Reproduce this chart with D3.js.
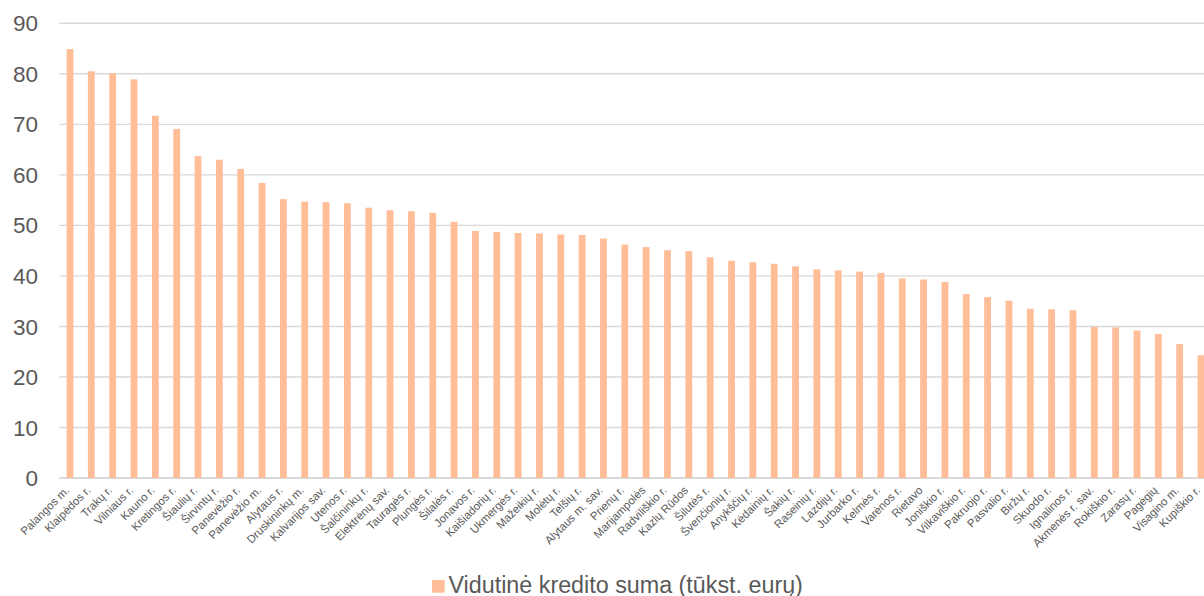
<!DOCTYPE html>
<html>
<head>
<meta charset="utf-8">
<script src="https://cdn.jsdelivr.net/npm/d3@7"></script>
<style>
  html, body { margin: 0; padding: 0; background: #ffffff; }
  svg { display: block; font-family: "Liberation Sans", Arial, sans-serif; }
</style>
</head>
<body>
<svg id="chart" width="1204" height="596"></svg>
<script>
// Average loan amount by municipality (thousand euros)
const categories = [
  "Palangos m.", "Klaipėdos r.", "Trakų r.", "Vilniaus r.", "Kauno r.", "Kretingos r.",
  "Šiaulių r.", "Širvintų r.", "Panevėžio r.", "Panevėžio m.", "Alytaus r.", "Druskininkų m.",
  "Kalvarijos sav.", "Utenos r.", "Šalčininkų r.", "Elektrėnų sav.", "Tauragės r.", "Plungės r.",
  "Šilalės r.", "Jonavos r.", "Kaišiadorių r.", "Ukmergės r.", "Mažeikių r.", "Molėtų r.",
  "Telšių r.", "Alytaus m. sav.", "Prienų r.", "Marijampolės", "Radviliškio r.", "Kazlų Rūdos",
  "Šilutės r.", "Švenčionių r.", "Anykščių r.", "Kėdainių r.", "Šakių r.", "Raseinių r.",
  "Lazdijų r.", "Jurbarko r.", "Kelmės r.", "Varėnos r.", "Rietavo", "Joniškio r.",
  "Vilkaviškio r.", "Pakruojo r.", "Pasvalio r.", "Biržų r.", "Skuodo r.", "Ignalinos r.",
  "Akmenės r. sav.", "Rokiškio r.", "Zarasų r.", "Pagėgių", "Visagino m.", "Kupiškio r."
];

const values = [
  84.9, 80.5, 80.1, 78.9, 71.7, 69.1,
  63.7, 63.0, 61.2, 58.4, 55.2, 54.7,
  54.6, 54.4, 53.5, 53.0, 52.8, 52.5,
  50.7, 48.9, 48.7, 48.5, 48.4, 48.2,
  48.1, 47.4, 46.2, 45.7, 45.1, 44.9,
  43.7, 43.0, 42.7, 42.4, 41.9, 41.3,
  41.1, 40.85, 40.6, 39.5, 39.3, 38.8,
  36.4, 35.8, 35.1, 33.5, 33.4, 33.2,
  29.9, 29.8, 29.2, 28.5, 26.5, 24.3
];

const yTicks = [0, 10, 20, 30, 40, 50, 60, 70, 80, 90];
const seriesName = "Vidutinė kredito suma (tūkst. eurų)";

const data = categories.map((c, i) => ({ name: c, value: values[i] }));

const svg = d3.select("#chart");

const x = d3.scaleBand()
  .domain(categories)
  .range([59.3, 1211.7])
  .paddingInner(0.68)
  .paddingOuter(0.34);

const y = d3.scaleLinear()
  .domain([0, 90])
  .range([478, 23.3]);

// horizontal gridlines
svg.append("g")
  .selectAll("line")
  .data(yTicks)
  .join("line")
  .attr("x1", 59.3)
  .attr("x2", 1204)
  .attr("y1", d => y(d))
  .attr("y2", d => y(d))
  .attr("stroke", "#d9d9d9")
  .attr("stroke-width", d => d === 0 ? 2 : 1.4);

// y tick labels
svg.append("g")
  .selectAll("text")
  .data(yTicks)
  .join("text")
  .attr("x", 38)
  .attr("y", d => y(d))
  .attr("dy", "0.36em")
  .attr("text-anchor", "end")
  .attr("font-size", 22.5)
  .attr("fill", "#595959")
  .text(d => d);

// bars
svg.append("g")
  .selectAll("rect")
  .data(data)
  .join("rect")
  .attr("x", d => x(d.name))
  .attr("width", x.bandwidth())
  .attr("y", d => y(d.value))
  .attr("height", d => y(0) - y(d.value))
  .attr("fill", "#ffbe98");

// rotated category labels
svg.append("g")
  .selectAll("text")
  .data(categories)
  .join("text")
  .attr("transform", d => {
    const cx = x(d) + x.bandwidth() / 2;
    return `translate(${cx},${491}) rotate(-45)`;
  })
  .attr("text-anchor", "end")
  .attr("font-size", 11.4)
  .attr("fill", "#595959")
  .text(d => d);

// legend
const legend = svg.append("g").attr("transform", "translate(432,580)");
legend.append("rect")
  .attr("width", 12.7)
  .attr("height", 12.7)
  .attr("fill", "#ffbe98");
legend.append("text")
  .attr("x", 16.5)
  .attr("y", 12.8)
  .attr("font-size", 23.3)
  .attr("fill", "#595959")
  .text(seriesName);
</script>
</body>
</html>
